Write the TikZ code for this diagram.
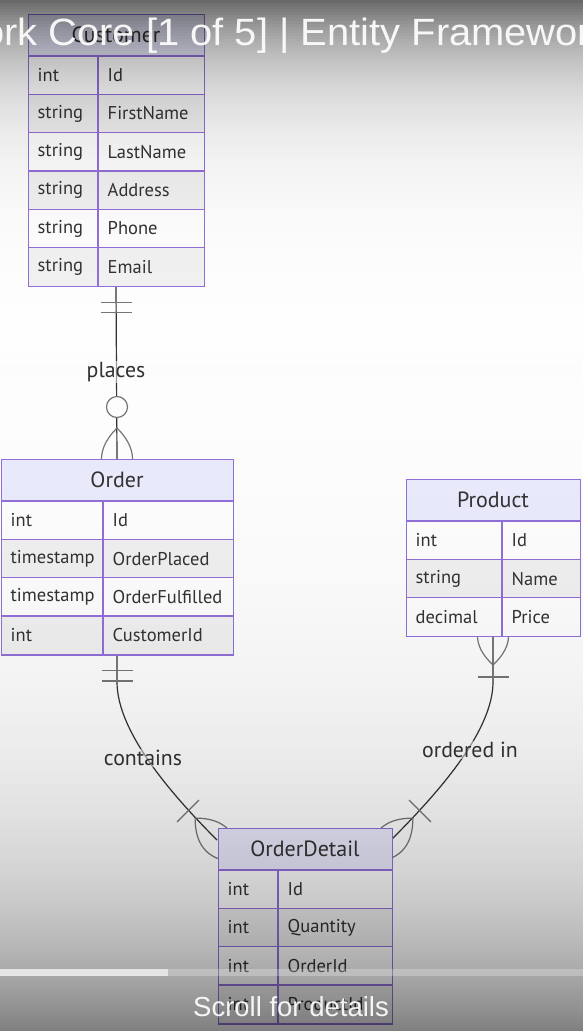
\documentclass[tikz,border=0pt]{standalone}
\usepackage{fontspec}
\setmainfont{PT Sans}
\newfontfamily\ytfont{Liberation Sans}
\usetikzlibrary{calc}
\definecolor{hdrfill}{HTML}{ECECFF}
\definecolor{erborder}{HTML}{9370DB}
\definecolor{rowgray}{HTML}{F2F2F2}
\definecolor{lineclr}{HTML}{333333}
\definecolor{markclr}{HTML}{777777}
\definecolor{txtclr}{HTML}{333333}
\tikzset{
  erline/.style={draw=erborder, line width=1.3pt},
  hdrtext/.style={inner sep=0pt, font=\fontsize{22}{24}\selectfont, text=txtclr},
  celltext/.style={anchor=west, inner sep=0pt, font=\fontsize{18.5}{20}\selectfont, text=txtclr},
  conn/.style={draw=lineclr, line width=1.2pt},
  crowmark/.style={draw=markclr, line width=1.2pt},
  rellabel/.style={font=\fontsize{21.8}{24}\selectfont, text=txtclr, fill=white, fill opacity=0.5, text opacity=1, inner sep=1pt},
  ytstyle/.style={inner sep=0pt, text=white, text opacity=0.92},
}
% #1 name, #2 left, #3 top, #4 divider, #5 right, #6 rows count, #7 title, #8 rows
\newcommand{\ERtable}[8]{%
  \fill[hdrfill] (#2,#3) rectangle (#5,#3+42);
  \node[hdrtext] (#1-title) at ({(#2+#5)/2},#3+21) {#7};
  \foreach[count=\k] \ty/\nm in {#8} {%
    \pgfmathsetmacro\yy{#3+42+(\k-1)*38.33}%
    \pgfmathtruncatemacro\ev{mod(\k,2)}%
    \ifnum\ev=0 \def\rowfill{rowgray}\else\def\rowfill{white}\fi
    \fill[\rowfill] (#2,\yy) rectangle (#5,\yy+38.33);
    \draw[erline] (#2,\yy) -- (#5,\yy);
    \node[celltext] (#1-t\k) at (#2+9.5,\yy+19.2) {\ty};
    \node[celltext] (#1-n\k) at (#4+9.5,\yy+19.2) {\nm};
  }
  \draw[erline] (#4,#3+42) -- (#4,#3+42+#6*38.33);
  \node[erline, fill=none, anchor=north west, inner sep=0pt, minimum width={#5-#2}, minimum height={42+#6*38.33}] (#1) at (#2,#3) {};
}
% crow's foot lens: #1 point M, #2 ux, #3 uy, #4 L, #5 W
\newcommand{\crowfoot}[5]{%
  \draw[crowmark] ($(#1)+({-(#4)*(#2)},{-(#4)*(#3)})$)
    .. controls ($(#1)+({-(#4)/3*(#2)-2*(#5)/3*(#3)},{-(#4)/3*(#3)+2*(#5)/3*(#2)})$)
    and ($(#1)+({(#4)/3*(#2)-2*(#5)/3*(#3)},{(#4)/3*(#3)+2*(#5)/3*(#2)})$)
    .. ($(#1)+({(#4)*(#2)},{(#4)*(#3)})$)
    .. controls ($(#1)+({(#4)/3*(#2)+2*(#5)/3*(#3)},{(#4)/3*(#3)-2*(#5)/3*(#2)})$)
    and ($(#1)+({-(#4)/3*(#2)+2*(#5)/3*(#3)},{-(#4)/3*(#3)-2*(#5)/3*(#2)})$)
    .. cycle;
}
% tick: #1 point M, #2 ux, #3 uy, #4 distance d, #5 half length
\newcommand{\crowtick}[5]{%
  \draw[crowmark] ($(#1)+({-(#4)*(#2)-(#5)*(#3)},{-(#4)*(#3)+(#5)*(#2)})$)
    -- ($(#1)+({-(#4)*(#2)+(#5)*(#3)},{-(#4)*(#3)-(#5)*(#2)})$);
}
\begin{document}
\begin{tikzpicture}[x=1pt,y=-1pt]
\useasboundingbox (0,0) rectangle (583,1031);
\clip (0,0) rectangle (583,1031);
\fill[white] (0,0) rectangle (583,1031);

% reference points for connectors (entity positions fixed)
\coordinate (custS) at (116,286);
\coordinate (ordN) at (117,459);
\coordinate (ordS) at (117,655);
\coordinate (prodS) at (493,636);
\coordinate (odL) at (217,840);
\coordinate (odR) at (391,840);

% Customer -- Order
\draw[conn] (custS) -- (ordN);
\draw[crowmark] ($(custS)+(-15.5,16.5)$) -- +(31,0);
\draw[crowmark] ($(custS)+(-15.5,26.5)$) -- +(31,0);
\crowfoot{ordN}{0}{1}{31}{31}
\draw[crowmark, fill=white] ($(ordN)+(0,-52)$) circle[radius=10.5pt];

% Order -- OrderDetail
\draw[conn] (ordS) -- ++(0,27) .. controls +(0,50) and ($(odL)+(-45,-45)$) .. (odL);
\draw[crowmark] ($(ordS)+(-15.5,15.5)$) -- +(31,0);
\draw[crowmark] ($(ordS)+(-15.5,26)$) -- +(31,0);
\crowfoot{odL}{0.7071}{0.7071}{31}{31}
\crowtick{odL}{0.7071}{0.7071}{41}{15.5}

% Product -- OrderDetail
\draw[conn] (prodS) -- ++(0,46) .. controls +(0,50) and ($(odR)+(45,-45)$) .. (odR);
\crowfoot{prodS}{0}{-1}{29}{31}
\crowtick{prodS}{0}{-1}{41}{15.5}
\crowfoot{odR}{-0.7071}{0.7071}{31}{31}
\crowtick{odR}{-0.7071}{0.7071}{41}{15.5}

% entities
\ERtable{customer}{28}{14}{98}{204}{6}{Customer}{int/Id,string/FirstName,string/LastName,string/Address,string/Phone,string/Email}
\ERtable{order}{1}{459}{103}{233}{4}{Order}{int/Id,timestamp/OrderPlaced,timestamp/OrderFulfilled,int/CustomerId}
\ERtable{product}{406}{479}{502}{580}{3}{Product}{int/Id,string/Name,decimal/Price}
\ERtable{orderdetail}{218}{828}{278}{392}{4}{OrderDetail}{int/Id,int/Quantity,int/OrderId,int/ProductId}

% relationship labels
\node[rellabel] (lblplaces) at (116,372) {places};
\node[rellabel] (lblcontains) at (143,758) {contains};
\node[rellabel] (lblordered) at (470,750) {ordered in};

% video overlay gradients
\foreach \yy in {0,3,...,400} {
  \pgfmathsetmacro\op{0.6*exp(-(\yy+1.5)/66)}
  \fill[black, fill opacity=\op] (0,\yy) rectangle (583,\yy+3);
}
\foreach \yy in {352,355,...,1030} {
  \pgfmathsetmacro\op{0.5*exp((\yy+1.5-1031)/150)}
  \fill[black, fill opacity=\op] (0,\yy) rectangle (583,\yy+3);
}
% progress bar
\fill[white, fill opacity=0.25] (168,969) rectangle (583,976);
\fill[white, fill opacity=0.7] (0,969) rectangle (168,976);

% overlay texts
\node[ytstyle, anchor=base west, xscale=1.05, font=\ytfont\fontsize{38}{40}\selectfont] (yttitle) at (-18,45) {ork Core [1 of 5] | Entity Framewor};
\node[ytstyle, anchor=base, font=\ytfont\fontsize{27.5}{30}\selectfont] (ytscroll) at (291,1016) {Scroll for details};
\end{tikzpicture}
\end{document}
